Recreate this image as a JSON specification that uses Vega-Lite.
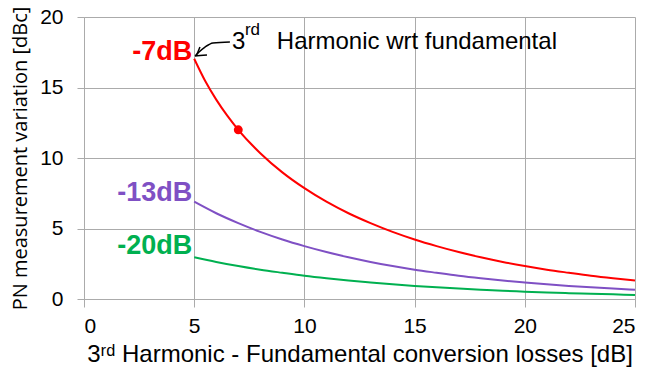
{
  "$schema": "https://vega.github.io/schema/vega-lite/v6.json",
  "width": 551,
  "height": 282,
  "autosize": {"type": "none"},
  "padding": {"left": 84, "top": 17, "right": 22, "bottom": 72},
  "background": "white",
  "config": {
    "view": {"stroke": null},
    "font": "Liberation Sans",
    "axis": {
      "gridColor": "#ABABAB",
      "gridOpacity": 1,
      "gridWidth": 1,
      "domainColor": "#ABABAB",
      "tickColor": "#ABABAB",
      "tickSize": 7,
      "labelFont": "Liberation Sans",
      "labelFontSize": 21,
      "labelColor": "#000000",
      "titleColor": "#000000",
      "titleFontWeight": "normal"
    }
  },
  "datasets": {
    "curves": [
      {"series": "-7dB", "x": 5, "y": 17.04},
      {"series": "-7dB", "x": 5.5, "y": 15.46},
      {"series": "-7dB", "x": 6, "y": 14.14},
      {"series": "-7dB", "x": 6.5, "y": 13.0},
      {"series": "-7dB", "x": 7, "y": 12.0},
      {"series": "-7dB", "x": 8, "y": 10.34},
      {"series": "-7dB", "x": 9, "y": 8.98},
      {"series": "-7dB", "x": 10, "y": 7.86},
      {"series": "-7dB", "x": 11, "y": 6.9},
      {"series": "-7dB", "x": 12, "y": 6.08},
      {"series": "-7dB", "x": 13, "y": 5.38},
      {"series": "-7dB", "x": 14, "y": 4.76},
      {"series": "-7dB", "x": 15, "y": 4.22},
      {"series": "-7dB", "x": 16, "y": 3.75},
      {"series": "-7dB", "x": 17, "y": 3.33},
      {"series": "-7dB", "x": 18, "y": 2.96},
      {"series": "-7dB", "x": 19, "y": 2.63},
      {"series": "-7dB", "x": 20, "y": 2.34},
      {"series": "-7dB", "x": 21, "y": 2.08},
      {"series": "-7dB", "x": 22, "y": 1.86},
      {"series": "-7dB", "x": 23, "y": 1.65},
      {"series": "-7dB", "x": 24, "y": 1.47},
      {"series": "-7dB", "x": 25, "y": 1.31},
      {"series": "-13dB", "x": 5, "y": 6.9},
      {"series": "-13dB", "x": 6, "y": 6.08},
      {"series": "-13dB", "x": 7, "y": 5.38},
      {"series": "-13dB", "x": 8, "y": 4.76},
      {"series": "-13dB", "x": 9, "y": 4.22},
      {"series": "-13dB", "x": 10, "y": 3.75},
      {"series": "-13dB", "x": 11, "y": 3.33},
      {"series": "-13dB", "x": 12, "y": 2.96},
      {"series": "-13dB", "x": 13, "y": 2.63},
      {"series": "-13dB", "x": 14, "y": 2.34},
      {"series": "-13dB", "x": 15, "y": 2.08},
      {"series": "-13dB", "x": 16, "y": 1.86},
      {"series": "-13dB", "x": 17, "y": 1.65},
      {"series": "-13dB", "x": 18, "y": 1.47},
      {"series": "-13dB", "x": 19, "y": 1.31},
      {"series": "-13dB", "x": 20, "y": 1.17},
      {"series": "-13dB", "x": 21, "y": 1.04},
      {"series": "-13dB", "x": 22, "y": 0.93},
      {"series": "-13dB", "x": 23, "y": 0.83},
      {"series": "-13dB", "x": 24, "y": 0.74},
      {"series": "-13dB", "x": 25, "y": 0.66},
      {"series": "-20dB", "x": 5, "y": 2.96},
      {"series": "-20dB", "x": 6, "y": 2.63},
      {"series": "-20dB", "x": 7, "y": 2.34},
      {"series": "-20dB", "x": 8, "y": 2.08},
      {"series": "-20dB", "x": 9, "y": 1.86},
      {"series": "-20dB", "x": 10, "y": 1.65},
      {"series": "-20dB", "x": 11, "y": 1.47},
      {"series": "-20dB", "x": 12, "y": 1.31},
      {"series": "-20dB", "x": 13, "y": 1.17},
      {"series": "-20dB", "x": 14, "y": 1.04},
      {"series": "-20dB", "x": 15, "y": 0.93},
      {"series": "-20dB", "x": 16, "y": 0.83},
      {"series": "-20dB", "x": 17, "y": 0.74},
      {"series": "-20dB", "x": 18, "y": 0.66},
      {"series": "-20dB", "x": 19, "y": 0.58},
      {"series": "-20dB", "x": 20, "y": 0.52},
      {"series": "-20dB", "x": 21, "y": 0.46},
      {"series": "-20dB", "x": 22, "y": 0.41},
      {"series": "-20dB", "x": 23, "y": 0.37},
      {"series": "-20dB", "x": 24, "y": 0.33},
      {"series": "-20dB", "x": 25, "y": 0.29}
    ],
    "marker": [{"series": "-7dB", "x": 7, "y": 12.0}],
    "arrow": [
      {"seg": "shaft", "i": 0, "x": 6.62, "y": 18.23},
      {"seg": "shaft", "i": 1, "x": 5.85, "y": 18.16},
      {"seg": "shaft", "i": 2, "x": 5.49, "y": 17.87},
      {"seg": "shaft", "i": 3, "x": 5.22, "y": 17.52},
      {"seg": "shaft", "i": 4, "x": 5.04, "y": 17.23},
      {"seg": "head", "i": 0, "x": 5.26, "y": 17.87},
      {"seg": "head", "i": 1, "x": 5.04, "y": 17.23},
      {"seg": "head", "i": 2, "x": 5.58, "y": 17.3}
    ],
    "serieslabels": [
      {"series": "-7dB", "x": 5, "y": 17.5},
      {"series": "-13dB", "x": 5, "y": 7.52},
      {"series": "-20dB", "x": 5, "y": 3.76}
    ],
    "notemain": [
      {"x": 6.72, "y": 17.73, "label": "3"},
      {"x": 8.75, "y": 17.73, "label": "Harmonic wrt fundamental"}
    ],
    "notesup": [{"x": 7.3, "y": 18.72, "label": "rd"}]
  },
  "layer": [
    {
      "data": {"name": "curves"},
      "mark": {"type": "line", "strokeWidth": 2, "interpolate": "monotone"},
      "encoding": {
        "x": {
          "field": "x", "type": "quantitative",
          "scale": {"domain": [0, 25], "nice": false},
          "axis": {
            "values": [0, 5, 10, 15, 20, 25],
            "title": "3ʳᵈ Harmonic - Fundamental conversion losses [dB]",
            "titleFont": "Liberation Sans",
            "titleFontSize": 24,
            "titlePadding": 6,
            "labelPadding": 8,
            "tickSize": 8
          }
        },
        "y": {
          "field": "y", "type": "quantitative",
          "scale": {"domain": [0, 20], "nice": false},
          "axis": {
            "values": [0, 5, 10, 15, 20],
            "title": "PN measurement variation [dBc]",
            "titleFont": "Open Sans",
            "titleFontSize": 20,
            "titlePadding": 9,
            "labelPadding": 14
          }
        },
        "color": {
          "field": "series", "type": "nominal",
          "scale": {"domain": ["-7dB", "-13dB", "-20dB"], "range": ["#FF0000", "#7F50C4", "#00B050"]},
          "legend": null
        },
        "detail": {"field": "series"}
      }
    },
    {
      "data": {"name": "marker"},
      "mark": {"type": "point", "filled": true, "size": 80, "opacity": 1, "color": "#FF0000"},
      "encoding": {
        "x": {"field": "x", "type": "quantitative"},
        "y": {"field": "y", "type": "quantitative"}
      }
    },
    {
      "data": {"name": "arrow"},
      "mark": {"type": "line", "color": "#000000", "strokeWidth": 1.5, "interpolate": "monotone"},
      "encoding": {
        "x": {"field": "x", "type": "quantitative"},
        "y": {"field": "y", "type": "quantitative"},
        "detail": {"field": "seg"},
        "order": {"field": "i"}
      }
    },
    {
      "data": {"name": "serieslabels"},
      "mark": {"type": "text", "align": "right", "baseline": "middle", "dx": -2, "fontSize": 27, "fontWeight": "bold", "font": "Liberation Sans"},
      "encoding": {
        "x": {"field": "x", "type": "quantitative"},
        "y": {"field": "y", "type": "quantitative"},
        "text": {"field": "series"},
        "color": {"field": "series", "type": "nominal", "legend": null}
      }
    },
    {
      "data": {"name": "notemain"},
      "mark": {"type": "text", "align": "left", "baseline": "alphabetic", "fontSize": 24, "font": "Liberation Sans", "color": "#000000"},
      "encoding": {
        "x": {"field": "x", "type": "quantitative"},
        "y": {"field": "y", "type": "quantitative"},
        "text": {"field": "label"}
      }
    },
    {
      "data": {"name": "notesup"},
      "mark": {"type": "text", "align": "left", "baseline": "alphabetic", "fontSize": 17, "font": "Liberation Sans", "color": "#000000"},
      "encoding": {
        "x": {"field": "x", "type": "quantitative"},
        "y": {"field": "y", "type": "quantitative"},
        "text": {"field": "label"}
      }
    }
  ]
}
